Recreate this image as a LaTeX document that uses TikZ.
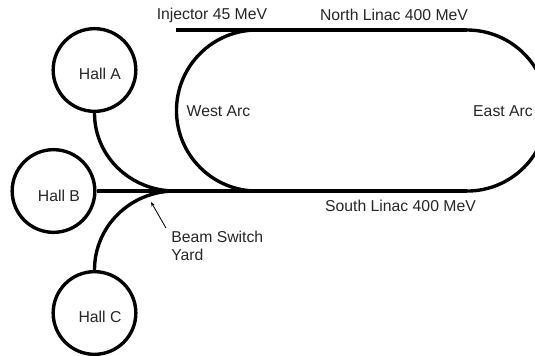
\documentclass[tikz,border=0pt]{standalone}
\usepackage{fontspec}
\setmainfont{Liberation Sans}
\usetikzlibrary{arrows.meta}
\tikzset{
  hallnode/.style={circle,draw=black,line width=2.4pt,minimum size=58.8pt,inner sep=0pt},
  beamline/.style={line width=2.4pt,black},
  marklabel/.style={font=\fontsize{11.2}{12.8}\selectfont,inner sep=0pt,text=black!85},
  pointer/.style={semithick,-{Stealth[length=3.2pt,width=2.4pt]}}
}

\begin{document}
\begin{tikzpicture}[x=0.025cm,y=-0.025cm]
  \useasboundingbox (0,0) rectangle (535,356);
  \clip (0,0) rectangle (535,356);

  \node[hallnode] (hallA) at (94.5,70) {};
  \node[hallnode] (hallB) at (53.5,191) {};
  \node[hallnode] (hallC) at (94.5,313) {};
  \node[marklabel] (labelA) at (100,74) {Hall A};
  \node[marklabel] (labelB) at (59,196) {Hall B};
  \node[marklabel] (labelC) at (100,317) {Hall C};

  \coordinate (yard) at (175,191);
  \coordinate (injector) at (176,30);
  \coordinate (northW) at (257,30);
  \coordinate (northE) at (467,30);
  \coordinate (southE) at (467,191);

  % transport lines to the halls
  \draw[beamline] (hallA.south) to[out=-90,in=180] (yard);
  \draw[beamline] (hallC.north) to[out=90,in=180] (yard);
  \draw[beamline] (hallB.east)--(southE);

  % recirculation ring
  \draw[beamline] (injector)--(northE);
  \draw[beamline] (northW) arc[start angle=90,end angle=270,radius=2.0125cm];
  \draw[beamline] (northE) arc[start angle=90,end angle=-90,radius=2.0125cm];

  \node[marklabel] (injlabel) at (212,15) {Injector 45 MeV};
  \node[marklabel] (northlabel) at (394,15) {North Linac 400 MeV};
  \node[marklabel] (southlabel) at (400.5,206) {South Linac 400 MeV};
  \node[marklabel] (westlabel) at (218.5,111) {West Arc};
  \node[marklabel] (eastlabel) at (503,111) {East Arc};
  \node[marklabel,align=left,anchor=north west] (switchlabel) at (171,231) {Beam Switch\\Yard};

  \coordinate (pointerstart) at (166,228);
  \coordinate (pointerend) at (151,202);
  \draw[pointer] (pointerstart)--(pointerend);
\end{tikzpicture}
\end{document}
